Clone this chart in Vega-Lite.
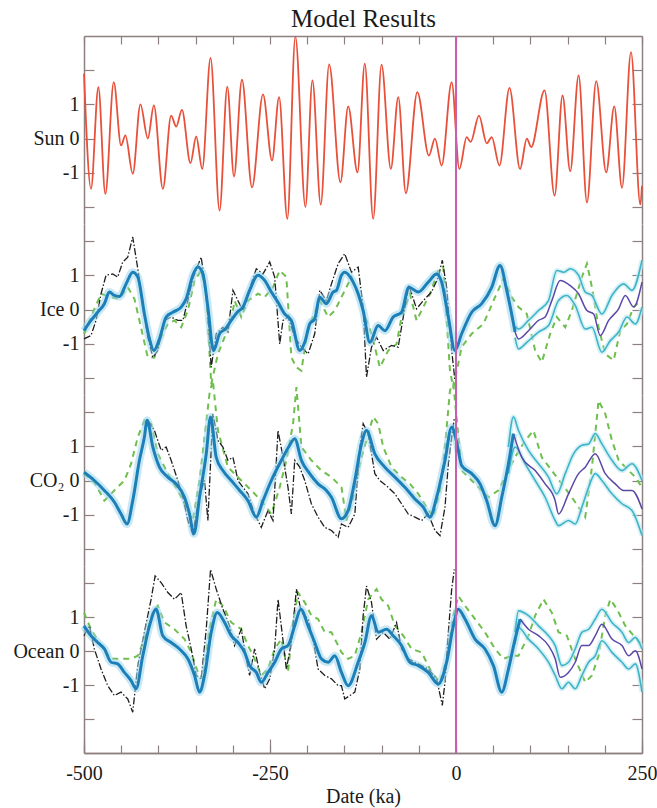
{
"$schema":"https://vega.github.io/schema/vega-lite/v6.json",
"padding":{"left":12,"top":6,"right":5,"bottom":5},
"bounds":"flush",
"spacing":0,
"config":{"view":{"stroke":null},"axis":{"domainColor":"#8e8080","tickColor":"#8e8080","domainWidth":1.5,"tickWidth":1.2,"grid":false,"labelFont":"Liberation Serif","titleFont":"Liberation Serif","labelColor":"#1a1a1a","titleColor":"#1a1a1a","labelFlush":false,"labelOverlap":false}},
"datasets":{
"sun":[{"t":-500,"v":1.9},{"t":-490.6,"v":-1.47},{"t":-480.7,"v":1.5},{"t":-471.3,"v":-1.62},{"t":-460,"v":1.65},{"t":-450.2,"v":-0.2},{"t":-444.4,"v":0.09},{"t":-434.4,"v":-1.03},{"t":-424.2,"v":1.0},{"t":-414.2,"v":0},{"t":-406.1,"v":0.97},{"t":-394,"v":-1.47},{"t":-382.9,"v":0.67},{"t":-376.1,"v":0.35},{"t":-368.4,"v":0.84},{"t":-356.9,"v":-0.72},{"t":-349.2,"v":0.06},{"t":-341.1,"v":-0.89},{"t":-329.9,"v":2.36},{"t":-317.8,"v":-2.11},{"t":-307.4,"v":1.52},{"t":-298.4,"v":-1.11},{"t":-287.7,"v":1.72},{"t":-274.2,"v":-1.43},{"t":-259.4,"v":1.29},{"t":-247.3,"v":-0.64},{"t":-237.8,"v":1.21},{"t":-226.7,"v":-2.35},{"t":-215.9,"v":2.98},{"t":-202.4,"v":-2.0},{"t":-193,"v":1.7},{"t":-181.8,"v":-1.93},{"t":-170.5,"v":2.17},{"t":-155.3,"v":-1.28},{"t":-144.9,"v":0.94},{"t":-132.4,"v":-0.99},{"t":-122.6,"v":2.19},{"t":-111.3,"v":-2.35},{"t":-100.1,"v":2.16},{"t":-87.6,"v":-0.89},{"t":-77.6,"v":1.21},{"t":-67.4,"v":-1.6},{"t":-52,"v":1.36},{"t":-36.4,"v":-0.5},{"t":-28.3,"v":0},{"t":-19.3,"v":-0.79},{"t":-5.8,"v":1.65},{"t":4.5,"v":-0.89},{"t":14.4,"v":0.04},{"t":19.7,"v":-0.1},{"t":30.9,"v":0.67},{"t":41.3,"v":-0.14},{"t":48,"v":0.04},{"t":58.4,"v":-0.79},{"t":71.9,"v":1.48},{"t":86.1,"v":-0.89},{"t":95.2,"v":0},{"t":101,"v":-0.25},{"t":119,"v":1.41},{"t":132.5,"v":-1.67},{"t":143.2,"v":1.26},{"t":153.5,"v":-0.96},{"t":164.8,"v":1.85},{"t":176,"v":-1.87},{"t":188.5,"v":1.68},{"t":201.9,"v":-0.99},{"t":212.7,"v":0.94},{"t":223.1,"v":-1.44},{"t":235.2,"v":2.53},{"t":247.7,"v":-1.93},{"t":250,"v":-1.38}],
"ice_model":[{"t":-500,"v":-0.62},{"t":-490.6,"v":-0.32},{"t":-481.6,"v":-0.08},{"t":-472.6,"v":0.17},{"t":-465.9,"v":0.51},{"t":-459.2,"v":0.41},{"t":-452.4,"v":0.38},{"t":-443.4,"v":0.75},{"t":-434.5,"v":1.09},{"t":-427.7,"v":0.95},{"t":-418.8,"v":-0.13},{"t":-412,"v":-0.86},{"t":-406.2,"v":-1.2},{"t":-398.6,"v":-0.86},{"t":-389.6,"v":-0.22},{"t":-380.6,"v":-0.08},{"t":-369.4,"v":0.07},{"t":-362.7,"v":0.31},{"t":-353.7,"v":1.0},{"t":-346.9,"v":1.24},{"t":-340.2,"v":1.04},{"t":-333.5,"v":0.07},{"t":-325.9,"v":-1.2},{"t":-317.8,"v":-0.71},{"t":-310.1,"v":-0.57},{"t":-302.1,"v":-0.32},{"t":-294,"v":-0.08},{"t":-286.4,"v":0.07},{"t":-277.4,"v":0.56},{"t":-266.2,"v":1.0},{"t":-257.2,"v":0.85},{"t":-248.2,"v":0.51},{"t":-239.2,"v":0.21},{"t":-230.3,"v":-0.13},{"t":-221.3,"v":-0.32},{"t":-210,"v":-1.2},{"t":-203.3,"v":-0.96},{"t":-196.6,"v":-0.42},{"t":-189.9,"v":-0.27},{"t":-183.1,"v":0.36},{"t":-174.2,"v":0.17},{"t":-165.2,"v":0.51},{"t":-160.7,"v":0.56},{"t":-154,"v":1.0},{"t":-149.5,"v":1.09},{"t":-138.2,"v":0.8},{"t":-131.5,"v":0.46},{"t":-124.8,"v":-0.03},{"t":-115.8,"v":-0.96},{"t":-104.6,"v":-0.47},{"t":-95.6,"v":-0.62},{"t":-84.4,"v":-0.22},{"t":-73.2,"v":-0.08},{"t":-63.3,"v":0.65},{"t":-50.7,"v":0.51},{"t":-37.3,"v":0.8},{"t":-26,"v":1.04},{"t":-19.3,"v":0.8},{"t":-10.3,"v":-0.22},{"t":-1.4,"v":-1.2},{"t":7.6,"v":-0.71},{"t":21.1,"v":-0.08},{"t":34.6,"v":0.17},{"t":48,"v":0.65},{"t":59.2,"v":1.29},{"t":68.2,"v":0.56},{"t":79.4,"v":-0.66}],
"ice_mean":[{"t":79.4,"v":-0.66},{"t":84,"v":-0.86},{"t":97.4,"v":-0.62},{"t":110.9,"v":-0.32},{"t":119.8,"v":-0.22},{"t":128.8,"v":0.26},{"t":140,"v":0.85},{"t":153.5,"v":0.7},{"t":164.7,"v":0.46},{"t":176,"v":-0.03},{"t":185,"v":-0.13},{"t":193.9,"v":-0.76},{"t":205.2,"v":-0.32},{"t":218.6,"v":0.02},{"t":227.6,"v":0.41},{"t":238.8,"v":0.07},{"t":250,"v":0.8}],
"ice_upper":[{"t":79.4,"v":-0.5},{"t":84,"v":-0.57},{"t":97.4,"v":-0.32},{"t":110.9,"v":-0.03},{"t":124.3,"v":0.26},{"t":135.5,"v":1.14},{"t":144.5,"v":1.09},{"t":153.5,"v":1.19},{"t":164.7,"v":1.0},{"t":173.7,"v":0.51},{"t":182.7,"v":0.41},{"t":196.1,"v":-0.13},{"t":209.6,"v":0.41},{"t":225.3,"v":0.75},{"t":236.5,"v":0.56},{"t":250,"v":1.44}],
"ice_lower":[{"t":79.4,"v":-0.82},{"t":84,"v":-1.15},{"t":95.2,"v":-0.96},{"t":110.9,"v":-0.66},{"t":124.3,"v":-0.47},{"t":137.8,"v":0.26},{"t":149,"v":0.41},{"t":160.2,"v":0.12},{"t":173.7,"v":-0.57},{"t":182.7,"v":-0.52},{"t":196.1,"v":-1.25},{"t":207.4,"v":-0.91},{"t":218.6,"v":-0.66},{"t":229.8,"v":-0.22},{"t":241,"v":-0.42},{"t":250,"v":0.07}],
"ice_data":[{"t":-500,"v":-0.86},{"t":-490.6,"v":-0.76},{"t":-483.8,"v":-0.32},{"t":-477.1,"v":0.46},{"t":-470.4,"v":1.0},{"t":-461.4,"v":1.04},{"t":-454.7,"v":0.95},{"t":-447.9,"v":1.39},{"t":-441.2,"v":1.53},{"t":-434.5,"v":2.12},{"t":-427.7,"v":1.19},{"t":-421,"v":0.17},{"t":-414.3,"v":-0.81},{"t":-407.5,"v":-1.4},{"t":-400.8,"v":-1.2},{"t":-391.8,"v":-0.32},{"t":-382.9,"v":-0.22},{"t":-373.9,"v":-0.32},{"t":-367.1,"v":-0.32},{"t":-360.4,"v":0.26},{"t":-353.7,"v":0.9},{"t":-346.9,"v":1.29},{"t":-342.5,"v":1.53},{"t":-335.7,"v":0.51},{"t":-331.3,"v":-0.91},{"t":-329,"v":-1.69},{"t":-322.3,"v":-0.71},{"t":-313.3,"v":-0.52},{"t":-306.6,"v":-0.66},{"t":-299.8,"v":0.56},{"t":-293.1,"v":0.26},{"t":-286.4,"v":-0.03},{"t":-277.4,"v":0.61},{"t":-268.4,"v":1.19},{"t":-259.4,"v":1.04},{"t":-250.4,"v":1.39},{"t":-243.7,"v":0.95},{"t":-237,"v":-1.01},{"t":-232.5,"v":-0.32},{"t":-225.8,"v":-0.22},{"t":-216.8,"v":-0.81},{"t":-207.8,"v":-1.1},{"t":-198.8,"v":-1.3},{"t":-189.9,"v":-0.71},{"t":-183.1,"v":0.56},{"t":-174.2,"v":0.26},{"t":-167.4,"v":0.75},{"t":-158.4,"v":1.34},{"t":-149.5,"v":1.63},{"t":-140.5,"v":1.09},{"t":-131.5,"v":1.24},{"t":-124.8,"v":0.07},{"t":-120.3,"v":-1.98},{"t":-113.6,"v":-1.1},{"t":-106.8,"v":-0.81},{"t":-97.8,"v":-1.2},{"t":-86.6,"v":-1.05},{"t":-77.7,"v":-1.1},{"t":-70.9,"v":-0.22},{"t":-63.3,"v":0.7},{"t":-53,"v":0.02},{"t":-44,"v":0.26},{"t":-32.8,"v":0.51},{"t":-23.8,"v":0.95},{"t":-18.4,"v":1.44},{"t":-12.6,"v":0.65},{"t":-5.8,"v":-1.2},{"t":-1.4,"v":-2.08}],
"ice_alt":[{"t":-500,"v":-0.71},{"t":-490.6,"v":-0.22},{"t":-477.1,"v":0.46},{"t":-463.6,"v":0.36},{"t":-452.4,"v":0.31},{"t":-441.2,"v":0.65},{"t":-432.2,"v":0.31},{"t":-425.5,"v":-0.32},{"t":-414.3,"v":-1.4},{"t":-405.3,"v":-1.4},{"t":-396.3,"v":-0.81},{"t":-387.3,"v":-0.42},{"t":-378.4,"v":-0.32},{"t":-369.4,"v":-0.52},{"t":-360.4,"v":-0.03},{"t":-351.4,"v":0.85},{"t":-342.5,"v":1.14},{"t":-335.7,"v":0.46},{"t":-329,"v":-2.18},{"t":-320,"v":-1.3},{"t":-311,"v":-0.81},{"t":-302.1,"v":-0.32},{"t":-297.6,"v":0.26},{"t":-288.6,"v":-0.22},{"t":-279.6,"v":0.26},{"t":-266.2,"v":0.46},{"t":-257.2,"v":0.36},{"t":-246,"v":0.65},{"t":-237,"v":1.14},{"t":-228,"v":0.95},{"t":-221.3,"v":-1.4},{"t":-214.5,"v":-1.69},{"t":-207.8,"v":-1.79},{"t":-201.1,"v":-0.81},{"t":-194.4,"v":-0.32},{"t":-183.1,"v":0.26},{"t":-171.9,"v":-0.22},{"t":-162.9,"v":-0.03},{"t":-154,"v":0.36},{"t":-140.5,"v":0.95},{"t":-129.3,"v":0.36},{"t":-120.3,"v":-0.32},{"t":-113.6,"v":-0.71},{"t":-102.3,"v":-1.69},{"t":-91.1,"v":-1.2},{"t":-79.9,"v":-1.01},{"t":-73.2,"v":-0.22},{"t":-61.9,"v":0.46},{"t":-53,"v":-0.32},{"t":-46.2,"v":-0.03},{"t":-35,"v":0.46},{"t":-23.8,"v":1.14},{"t":-17.1,"v":1.24},{"t":-8.1,"v":-1.79},{"t":-3.6,"v":-2.28},{"t":7.6,"v":-1.1},{"t":21.1,"v":-0.71},{"t":36.8,"v":-0.42},{"t":52.5,"v":0.36},{"t":63.7,"v":0.9},{"t":75,"v":0.36},{"t":84,"v":0.07},{"t":95.2,"v":-0.13},{"t":106.4,"v":-1.2},{"t":115.3,"v":-1.54},{"t":126.6,"v":-0.71},{"t":135.5,"v":-0.22},{"t":146.8,"v":-0.52},{"t":155.7,"v":-0.03},{"t":169.2,"v":0.95},{"t":176,"v":1.34},{"t":182.7,"v":0.65},{"t":191.6,"v":-0.52},{"t":200.6,"v":-1.3},{"t":211.9,"v":-1.49},{"t":220.8,"v":-0.62},{"t":229.8,"v":-0.42},{"t":238.8,"v":0.07},{"t":247.7,"v":0.26}],
"co2_model":[{"t":-500,"v":0.24},{"t":-486.1,"v":0},{"t":-472.6,"v":-0.29},{"t":-459.2,"v":-0.63},{"t":-450.2,"v":-0.98},{"t":-442.1,"v":-1.27},{"t":-434.5,"v":-0.59},{"t":-425.5,"v":0.59},{"t":-418.8,"v":1.27},{"t":-415.2,"v":1.76},{"t":-407.5,"v":0.98},{"t":-398.6,"v":0.39},{"t":-387.3,"v":0.1},{"t":-376.1,"v":-0.1},{"t":-364.9,"v":-0.49},{"t":-358.2,"v":-0.98},{"t":-352.3,"v":-1.56},{"t":-344.7,"v":-0.49},{"t":-335.7,"v":0.78},{"t":-329.9,"v":1.86},{"t":-322.3,"v":0.68},{"t":-313.3,"v":0.29},{"t":-302.1,"v":0},{"t":-290.8,"v":-0.29},{"t":-279.6,"v":-0.59},{"t":-268.4,"v":-1.07},{"t":-259.4,"v":-0.59},{"t":-248.2,"v":0},{"t":-234.7,"v":0.59},{"t":-224.9,"v":0.98},{"t":-216.8,"v":1.22},{"t":-207.8,"v":0.59},{"t":-196.6,"v":0.2},{"t":-185.4,"v":-0.1},{"t":-174.2,"v":-0.29},{"t":-167.4,"v":-0.49},{"t":-154,"v":-1.12},{"t":-145,"v":-0.88},{"t":-136,"v":0},{"t":-127,"v":1.07},{"t":-120.3,"v":1.46},{"t":-109.1,"v":0.78},{"t":-95.6,"v":0.39},{"t":-82.1,"v":0.1},{"t":-68.7,"v":-0.2},{"t":-55.2,"v":-0.54},{"t":-44,"v":-0.78},{"t":-35,"v":-1.07},{"t":-26,"v":-0.49},{"t":-14.8,"v":0.59},{"t":-5.8,"v":1.56},{"t":0.9,"v":1.12},{"t":7.6,"v":0.44},{"t":21.1,"v":0.2},{"t":32.3,"v":-0.1},{"t":41.3,"v":-0.59},{"t":52.5,"v":-1.32},{"t":61.5,"v":-0.49},{"t":70.5,"v":0.49},{"t":77.2,"v":1.37}],
"co2_mean":[{"t":77.2,"v":1.37},{"t":88.4,"v":0.68},{"t":106.4,"v":0.29},{"t":119.8,"v":-0.1},{"t":133.3,"v":-0.59},{"t":137.8,"v":-0.98},{"t":151.2,"v":-0.39},{"t":164.7,"v":0.2},{"t":173.7,"v":0.39},{"t":187.2,"v":0.78},{"t":200.6,"v":0.2},{"t":214.1,"v":-0.1},{"t":225.3,"v":-0.29},{"t":236.5,"v":-0.29},{"t":250,"v":-0.83}],
"co2_upper":[{"t":70.5,"v":0.98},{"t":77.2,"v":1.86},{"t":84,"v":1.46},{"t":97.4,"v":0.88},{"t":110.9,"v":0.49},{"t":124.3,"v":0.1},{"t":135.5,"v":-0.39},{"t":146.8,"v":0.2},{"t":158,"v":0.78},{"t":169.2,"v":1.03},{"t":178.2,"v":1.07},{"t":187.2,"v":1.37},{"t":196.1,"v":1.07},{"t":209.6,"v":0.59},{"t":223.1,"v":0.29},{"t":236.5,"v":0.49},{"t":250,"v":0}],
"co2_lower":[{"t":70.5,"v":0.2},{"t":79.4,"v":0.98},{"t":92.9,"v":0.49},{"t":106.4,"v":0},{"t":119.8,"v":-0.49},{"t":133.3,"v":-1.17},{"t":137.8,"v":-1.32},{"t":151.2,"v":-1.17},{"t":160.2,"v":-1.27},{"t":169.2,"v":-0.78},{"t":178.2,"v":-0.2},{"t":187.2,"v":0.2},{"t":196.1,"v":0},{"t":209.6,"v":-0.39},{"t":223.1,"v":-0.68},{"t":236.5,"v":-0.88},{"t":250,"v":-1.61}],
"co2_data":[{"t":-414.3,"v":1.76},{"t":-405.3,"v":1.46},{"t":-396.3,"v":0.88},{"t":-389.6,"v":0.98},{"t":-382.9,"v":0.59},{"t":-373.9,"v":0},{"t":-367.1,"v":-0.49},{"t":-360.4,"v":-1.17},{"t":-353.7,"v":-1.56},{"t":-346.9,"v":-0.68},{"t":-342.5,"v":-0.29},{"t":-338,"v":0},{"t":-333.5,"v":-1.17},{"t":-326.8,"v":1.95},{"t":-320,"v":1.17},{"t":-313.3,"v":0.98},{"t":-306.6,"v":0.59},{"t":-299.8,"v":0.68},{"t":-293.1,"v":0},{"t":-286.4,"v":-0.2},{"t":-279.6,"v":-0.39},{"t":-270.7,"v":-0.98},{"t":-261.7,"v":-1.37},{"t":-252.7,"v":-0.88},{"t":-246,"v":-1.17},{"t":-239.2,"v":1.46},{"t":-232.5,"v":0.68},{"t":-225.8,"v":-0.2},{"t":-221.3,"v":-0.98},{"t":-216.8,"v":0.59},{"t":-210,"v":0.39},{"t":-203.3,"v":0},{"t":-194.4,"v":-0.68},{"t":-185.4,"v":-1.07},{"t":-176.4,"v":-1.37},{"t":-167.4,"v":-1.46},{"t":-158.4,"v":-1.66},{"t":-154,"v":-1.27},{"t":-145,"v":-1.37},{"t":-136,"v":-0.98},{"t":-129.3,"v":0.98},{"t":-124.8,"v":1.66},{"t":-118,"v":1.37},{"t":-109.1,"v":0.2},{"t":-102.3,"v":0},{"t":-91.1,"v":-0.2},{"t":-82.1,"v":-0.39},{"t":-73.2,"v":-0.68},{"t":-64.2,"v":-0.98},{"t":-55.2,"v":-1.07},{"t":-46.2,"v":-1.17},{"t":-37.3,"v":-0.98},{"t":-28.3,"v":-1.46},{"t":-21.5,"v":-1.61},{"t":-14.8,"v":-0.78},{"t":-10.3,"v":0.49},{"t":-5.8,"v":1.27},{"t":-2.3,"v":1.81}],
"co2_alt":[{"t":-500,"v":0.2},{"t":-486.1,"v":-0.05},{"t":-472.6,"v":-0.59},{"t":-459.2,"v":-0.29},{"t":-445.7,"v":0},{"t":-436.7,"v":0.49},{"t":-427.7,"v":1.27},{"t":-418.8,"v":1.76},{"t":-409.8,"v":1.66},{"t":-400.8,"v":0.78},{"t":-387.3,"v":0.2},{"t":-373.9,"v":-0.29},{"t":-362.7,"v":-0.78},{"t":-353.7,"v":-1.17},{"t":-344.7,"v":0},{"t":-338,"v":1.27},{"t":-331.3,"v":2.54},{"t":-326.8,"v":2.93},{"t":-320,"v":1.46},{"t":-306.6,"v":0.39},{"t":-288.6,"v":0},{"t":-275.1,"v":-0.29},{"t":-261.7,"v":-0.59},{"t":-248.2,"v":-0.98},{"t":-237,"v":-0.2},{"t":-228,"v":0.59},{"t":-219,"v":1.66},{"t":-214.5,"v":2.73},{"t":-207.8,"v":0.98},{"t":-194.4,"v":0.59},{"t":-180.9,"v":0.29},{"t":-167.4,"v":0.1},{"t":-153.9,"v":-0.2},{"t":-147.2,"v":-1.17},{"t":-138.2,"v":-0.49},{"t":-129.3,"v":0.49},{"t":-118,"v":1.37},{"t":-111.3,"v":1.86},{"t":-104.6,"v":1.66},{"t":-97.8,"v":0.98},{"t":-86.6,"v":0.39},{"t":-73.2,"v":0.1},{"t":-61.9,"v":-0.1},{"t":-50.7,"v":-0.39},{"t":-39.5,"v":-0.78},{"t":-30.6,"v":-1.07},{"t":-21.5,"v":-0.29},{"t":-14.8,"v":0.98},{"t":-8.1,"v":2.64},{"t":-3.6,"v":2.83},{"t":7.6,"v":0.29},{"t":21.1,"v":0},{"t":34.6,"v":-0.29},{"t":43.5,"v":-0.49},{"t":57,"v":-0.29},{"t":66,"v":0.1},{"t":79.4,"v":0.68},{"t":92.9,"v":1.17},{"t":104.1,"v":1.46},{"t":115.3,"v":0.68},{"t":128.8,"v":0.29},{"t":142.3,"v":-0.1},{"t":155.7,"v":-0.49},{"t":164.7,"v":-0.78},{"t":173.7,"v":-1.07},{"t":182.7,"v":0.39},{"t":191.6,"v":2.34},{"t":200.6,"v":1.95},{"t":209.6,"v":1.17},{"t":218.6,"v":0.59},{"t":227.6,"v":0.39},{"t":241,"v":0.1},{"t":250,"v":-0.2}],
"oce_model":[{"t":-500,"v":0.74},{"t":-490.6,"v":0.45},{"t":-481.6,"v":0.25},{"t":-472.6,"v":0.06},{"t":-463.6,"v":-0.33},{"t":-454.7,"v":-0.38},{"t":-445.7,"v":-0.63},{"t":-436.7,"v":-0.87},{"t":-430,"v":-1.11},{"t":-421,"v":-0.14},{"t":-412,"v":0.74},{"t":-403.1,"v":1.23},{"t":-394.1,"v":0.45},{"t":-382.9,"v":0.25},{"t":-371.6,"v":0.06},{"t":-360.4,"v":-0.23},{"t":-351.4,"v":-0.72},{"t":-344.7,"v":-1.21},{"t":-338,"v":-0.72},{"t":-329,"v":0.55},{"t":-320.9,"v":1.13},{"t":-311,"v":0.84},{"t":-302.1,"v":0.45},{"t":-293.1,"v":0.25},{"t":-284.1,"v":-0.04},{"t":-277.4,"v":-0.43},{"t":-268.4,"v":-0.63},{"t":-261.7,"v":-0.92},{"t":-252.7,"v":-0.63},{"t":-243.7,"v":-0.33},{"t":-234.7,"v":0.06},{"t":-225.8,"v":0.16},{"t":-216.8,"v":0.74},{"t":-208.7,"v":1.23},{"t":-198.8,"v":0.74},{"t":-189.9,"v":0.25},{"t":-180.9,"v":-0.23},{"t":-171.9,"v":-0.33},{"t":-162.9,"v":-0.14},{"t":-153.9,"v":-0.63},{"t":-145,"v":-1.02},{"t":-131.5,"v":-0.33},{"t":-122.5,"v":0.25},{"t":-113.6,"v":1.04},{"t":-104.6,"v":0.55},{"t":-93.4,"v":0.64},{"t":-84.4,"v":0.45},{"t":-73.2,"v":0.16},{"t":-61.9,"v":-0.33},{"t":-50.7,"v":-0.43},{"t":-37.3,"v":-0.63},{"t":-23.8,"v":-0.97},{"t":-12.6,"v":-0.33},{"t":-3.6,"v":0.74},{"t":3.1,"v":1.23},{"t":12.1,"v":0.94},{"t":25.6,"v":0.35},{"t":39,"v":0.06},{"t":50.3,"v":-0.43},{"t":61.5,"v":-1.21},{"t":70.5,"v":-0.53},{"t":79.4,"v":0.35},{"t":86.2,"v":0.94}],
"oce_mean":[{"t":86.2,"v":0.94},{"t":97.4,"v":0.64},{"t":110.9,"v":0.45},{"t":124.3,"v":0.16},{"t":133.3,"v":-0.23},{"t":140,"v":-0.77},{"t":151.2,"v":-0.63},{"t":160.2,"v":-0.33},{"t":169.2,"v":0.16},{"t":178.2,"v":0.16},{"t":187.2,"v":0.45},{"t":196.1,"v":0.79},{"t":209.6,"v":0.35},{"t":223.1,"v":0.16},{"t":232.1,"v":-0.14},{"t":241,"v":0.01},{"t":250,"v":-0.53}],
"oce_upper":[{"t":79.4,"v":0.55},{"t":84,"v":1.18},{"t":97.4,"v":1.04},{"t":110.9,"v":0.74},{"t":124.3,"v":0.45},{"t":133.3,"v":0.16},{"t":142.3,"v":-0.43},{"t":151.2,"v":-0.33},{"t":160.2,"v":0.06},{"t":169.2,"v":0.55},{"t":178.2,"v":0.64},{"t":187.2,"v":0.94},{"t":196.1,"v":1.23},{"t":209.6,"v":0.84},{"t":223.1,"v":0.55},{"t":232.1,"v":0.25},{"t":241,"v":0.4},{"t":250,"v":0.06}],
"oce_lower":[{"t":79.4,"v":0.2},{"t":84,"v":0.69},{"t":97.4,"v":0.35},{"t":110.9,"v":0.06},{"t":124.3,"v":-0.33},{"t":133.3,"v":-0.72},{"t":142.3,"v":-1.11},{"t":151.2,"v":-0.92},{"t":160.2,"v":-1.11},{"t":169.2,"v":-0.72},{"t":178.2,"v":-0.33},{"t":187.2,"v":-0.14},{"t":196.1,"v":0.3},{"t":209.6,"v":-0.04},{"t":223.1,"v":-0.33},{"t":232.1,"v":-0.53},{"t":241,"v":-0.38},{"t":250,"v":-1.21}],
"oce_data":[{"t":-500,"v":0.45},{"t":-492.8,"v":0.74},{"t":-486.1,"v":0.06},{"t":-477.1,"v":-0.53},{"t":-468.1,"v":-1.02},{"t":-459.2,"v":-1.31},{"t":-450.2,"v":-1.21},{"t":-441.2,"v":-1.41},{"t":-434.5,"v":-1.8},{"t":-427.7,"v":-0.43},{"t":-418.8,"v":0.55},{"t":-409.8,"v":1.52},{"t":-404.4,"v":2.21},{"t":-396.3,"v":2.01},{"t":-387.3,"v":1.72},{"t":-378.4,"v":1.52},{"t":-369.4,"v":1.72},{"t":-362.7,"v":0.74},{"t":-355.9,"v":0.06},{"t":-349.2,"v":-0.72},{"t":-342.5,"v":-0.82},{"t":-335.7,"v":0.64},{"t":-329.9,"v":2.4},{"t":-322.3,"v":1.82},{"t":-313.3,"v":1.23},{"t":-304.3,"v":0.74},{"t":-297.6,"v":0.16},{"t":-288.6,"v":0.64},{"t":-281.9,"v":-0.23},{"t":-277.4,"v":-0.72},{"t":-270.7,"v":0.06},{"t":-263.9,"v":-0.63},{"t":-257.2,"v":-1.11},{"t":-250.4,"v":-0.82},{"t":-243.7,"v":0.06},{"t":-239.2,"v":1.52},{"t":-233.8,"v":0.55},{"t":-228,"v":-0.53},{"t":-221.3,"v":0.25},{"t":-214.5,"v":1.82},{"t":-207.8,"v":1.13},{"t":-198.8,"v":0.94},{"t":-192.1,"v":0.35},{"t":-185.4,"v":-0.53},{"t":-176.4,"v":-0.72},{"t":-167.4,"v":-0.82},{"t":-158.4,"v":-1.02},{"t":-154,"v":-1.02},{"t":-149.5,"v":-1.41},{"t":-142.7,"v":-1.31},{"t":-136,"v":-1.21},{"t":-129.3,"v":-0.53},{"t":-124.8,"v":1.04},{"t":-120.3,"v":1.91},{"t":-113.6,"v":1.43},{"t":-106.8,"v":0.35},{"t":-97.8,"v":0.55},{"t":-88.9,"v":0.35},{"t":-79.9,"v":0.84},{"t":-73.2,"v":0.06},{"t":-64.2,"v":-0.23},{"t":-55.2,"v":-0.33},{"t":-46.2,"v":-0.43},{"t":-37.3,"v":-0.53},{"t":-26,"v":-0.82},{"t":-18.4,"v":-1.6},{"t":-14.8,"v":-0.92},{"t":-10.3,"v":0.55},{"t":-5.8,"v":1.82},{"t":-2.3,"v":2.4}],
"oce_alt":[{"t":-500,"v":1.13},{"t":-490.6,"v":0.64},{"t":-477.1,"v":0.16},{"t":-463.6,"v":-0.23},{"t":-450.2,"v":-0.23},{"t":-436.7,"v":-0.23},{"t":-427.7,"v":-0.14},{"t":-418.8,"v":0.35},{"t":-407.5,"v":1.13},{"t":-400.8,"v":1.33},{"t":-391.8,"v":0.84},{"t":-378.4,"v":0.64},{"t":-364.9,"v":0.35},{"t":-355.9,"v":-0.04},{"t":-346.9,"v":-0.63},{"t":-340.2,"v":-0.82},{"t":-331.3,"v":0.64},{"t":-322.3,"v":1.52},{"t":-313.3,"v":1.33},{"t":-302.1,"v":0.84},{"t":-288.6,"v":0.64},{"t":-279.6,"v":0.16},{"t":-270.7,"v":-0.23},{"t":-261.7,"v":-0.72},{"t":-252.7,"v":-0.53},{"t":-243.7,"v":0.06},{"t":-234.7,"v":0.35},{"t":-225.8,"v":-0.63},{"t":-219,"v":0.84},{"t":-212.3,"v":1.72},{"t":-203.3,"v":1.43},{"t":-194.4,"v":1.04},{"t":-185.4,"v":0.94},{"t":-176.4,"v":0.55},{"t":-167.4,"v":0.55},{"t":-153.9,"v":-0.04},{"t":-145,"v":-0.23},{"t":-136,"v":-0.14},{"t":-127,"v":0.55},{"t":-118,"v":1.52},{"t":-106.8,"v":1.82},{"t":-100.1,"v":1.52},{"t":-91.1,"v":1.33},{"t":-82.1,"v":0.74},{"t":-70.9,"v":0.45},{"t":-59.7,"v":0.06},{"t":-46.2,"v":-0.04},{"t":-32.8,"v":-0.63},{"t":-21.5,"v":-0.92},{"t":-12.6,"v":-0.23},{"t":-3.6,"v":1.04},{"t":3.1,"v":1.62},{"t":12.1,"v":1.33},{"t":25.6,"v":0.94},{"t":39,"v":0.55},{"t":52.5,"v":0.06},{"t":63.7,"v":-0.23},{"t":75,"v":-0.14},{"t":84,"v":-0.14},{"t":97.4,"v":0.45},{"t":106.4,"v":1.04},{"t":117.6,"v":1.52},{"t":128.8,"v":1.13},{"t":137.8,"v":0.55},{"t":149,"v":0.45},{"t":160.2,"v":-0.23},{"t":173.7,"v":-0.92},{"t":182.7,"v":-0.72},{"t":191.6,"v":-0.14},{"t":200.6,"v":1.04},{"t":207.4,"v":1.52},{"t":216.3,"v":1.23},{"t":227.6,"v":0.74},{"t":238.8,"v":0.45},{"t":250,"v":0.16}]
},
"vconcat":[
{"width":558,"height":188,
 "layer":[
  {"data":{"name":"sun"},"mark":{"type":"line","color":"#e8503a","strokeWidth":1.8,"interpolate":"monotone"},
   "encoding":{"x":{"field":"t","type":"quantitative","scale":{"domain":[-500,250],"nice":false,"zero":false},"axis":{"orient":"top","values":[-500,-450,-400,-350,-300,-250,-200,-150,-100,-50,0,50,100,150,200,250],"tickSize":-8,"labels":false,"title":"Model Results","titleFontSize":25,"titleFontWeight":"normal","titlePadding":4}},
    "y":{"field":"v","type":"quantitative","scale":{"domain":[-2.5,3],"nice":false,"zero":false},"axis":{"orient":"left","values":[-2,-1,0,1,2],"tickSize":-10,"labelPadding":15,"labelFontSize":20,"labelExpr":"datum.value==0?'Sun 0':datum.value==1?'1':datum.value==-1?'-1':''","title":null}}}},
  {"data":{"values":[{}]},"mark":{"type":"rule","color":"#c55fae","strokeWidth":2},
   "encoding":{"x":{"datum":0,"type":"quantitative","axis":null},"y":{"datum":-2.5,"type":"quantitative","axis":{"orient":"right","values":[-2,-1,0,1,2],"tickSize":-10,"labels":false,"title":null}},"y2":{"datum":3}}}
 ],
 "resolve":{"axis":{"x":"independent","y":"independent"}}},
{"width":558,"height":171,
 "layer":[
  {"data":{"name":"ice_alt"},"mark":{"type":"line","color":"#6fbf4e","strokeWidth":2,"strokeDash":[6,5]},
   "encoding":{"x":{"field":"t","type":"quantitative","scale":{"domain":[-500,250],"nice":false,"zero":false},"axis":null},
    "y":{"field":"v","type":"quantitative","scale":{"domain":[-2.5,2.5],"nice":false,"zero":false},"axis":{"orient":"left","values":[-2,-1,0,1,2],"tickSize":-10,"labelPadding":15,"labelFontSize":20,"labelExpr":"datum.value==0?'Ice 0':datum.value==1?'1':datum.value==-1?'-1':''","title":null}}}},
  {"data":{"name":"ice_data"},"mark":{"type":"line","color":"#1e1e1e","strokeWidth":1.3,"strokeDash":[7,2,1.5,2]},"encoding":{"x":{"field":"t","type":"quantitative","axis":null},"y":{"field":"v","type":"quantitative","axis":null}}},
  {"data":{"name":"ice_model"},"mark":{"type":"line","color":"#9bd6ee","strokeWidth":8,"opacity":0.55,"interpolate":"monotone"},"encoding":{"x":{"field":"t","type":"quantitative","axis":null},"y":{"field":"v","type":"quantitative","axis":null}}},
  {"data":{"name":"ice_upper"},"mark":{"type":"line","color":"#bde7f1","strokeWidth":5,"opacity":0.6,"interpolate":"monotone"},"encoding":{"x":{"field":"t","type":"quantitative","axis":null},"y":{"field":"v","type":"quantitative","axis":null}}},
  {"data":{"name":"ice_lower"},"mark":{"type":"line","color":"#bde7f1","strokeWidth":5,"opacity":0.6,"interpolate":"monotone"},"encoding":{"x":{"field":"t","type":"quantitative","axis":null},"y":{"field":"v","type":"quantitative","axis":null}}},
  {"data":{"name":"ice_upper"},"mark":{"type":"line","color":"#3fb4c6","strokeWidth":1.6,"interpolate":"monotone"},"encoding":{"x":{"field":"t","type":"quantitative","axis":null},"y":{"field":"v","type":"quantitative","axis":null}}},
  {"data":{"name":"ice_lower"},"mark":{"type":"line","color":"#3fb4c6","strokeWidth":1.6,"interpolate":"monotone"},"encoding":{"x":{"field":"t","type":"quantitative","axis":null},"y":{"field":"v","type":"quantitative","axis":null}}},
  {"data":{"name":"ice_mean"},"mark":{"type":"line","color":"#5a48a8","strokeWidth":1.5,"interpolate":"monotone"},"encoding":{"x":{"field":"t","type":"quantitative","axis":null},"y":{"field":"v","type":"quantitative","axis":null}}},
  {"data":{"name":"ice_model"},"mark":{"type":"line","color":"#1d7fb8","strokeWidth":3,"interpolate":"monotone"},"encoding":{"x":{"field":"t","type":"quantitative","axis":null},"y":{"field":"v","type":"quantitative","axis":null}}},
  {"data":{"values":[{}]},"mark":{"type":"rule","color":"#c55fae","strokeWidth":2},
   "encoding":{"x":{"datum":0,"type":"quantitative","axis":null},"y":{"datum":-2.5,"type":"quantitative","axis":{"orient":"right","values":[-2,-1,0,1,2],"tickSize":-10,"labels":false,"title":null}},"y2":{"datum":2.5}}}
 ],
 "resolve":{"axis":{"x":"independent","y":"independent"}}},
{"width":558,"height":171,
 "layer":[
  {"data":{"name":"co2_alt"},"mark":{"type":"line","color":"#6fbf4e","strokeWidth":2,"strokeDash":[6,5]},
   "encoding":{"x":{"field":"t","type":"quantitative","scale":{"domain":[-500,250],"nice":false,"zero":false},"axis":null},
    "y":{"field":"v","type":"quantitative","scale":{"domain":[-2.5,2.5],"nice":false,"zero":false},"axis":{"orient":"left","values":[-2,-1,0,1,2],"tickSize":-10,"labelPadding":15,"labelFontSize":20,"labelExpr":"datum.value==0?'CO₂ 0':datum.value==1?'1':datum.value==-1?'-1':''","title":null}}}},
  {"data":{"name":"co2_data"},"mark":{"type":"line","color":"#1e1e1e","strokeWidth":1.3,"strokeDash":[7,2,1.5,2]},"encoding":{"x":{"field":"t","type":"quantitative","axis":null},"y":{"field":"v","type":"quantitative","axis":null}}},
  {"data":{"name":"co2_model"},"mark":{"type":"line","color":"#9bd6ee","strokeWidth":8,"opacity":0.55,"interpolate":"monotone"},"encoding":{"x":{"field":"t","type":"quantitative","axis":null},"y":{"field":"v","type":"quantitative","axis":null}}},
  {"data":{"name":"co2_upper"},"mark":{"type":"line","color":"#bde7f1","strokeWidth":5,"opacity":0.6,"interpolate":"monotone"},"encoding":{"x":{"field":"t","type":"quantitative","axis":null},"y":{"field":"v","type":"quantitative","axis":null}}},
  {"data":{"name":"co2_lower"},"mark":{"type":"line","color":"#bde7f1","strokeWidth":5,"opacity":0.6,"interpolate":"monotone"},"encoding":{"x":{"field":"t","type":"quantitative","axis":null},"y":{"field":"v","type":"quantitative","axis":null}}},
  {"data":{"name":"co2_upper"},"mark":{"type":"line","color":"#3fb4c6","strokeWidth":1.6,"interpolate":"monotone"},"encoding":{"x":{"field":"t","type":"quantitative","axis":null},"y":{"field":"v","type":"quantitative","axis":null}}},
  {"data":{"name":"co2_lower"},"mark":{"type":"line","color":"#3fb4c6","strokeWidth":1.6,"interpolate":"monotone"},"encoding":{"x":{"field":"t","type":"quantitative","axis":null},"y":{"field":"v","type":"quantitative","axis":null}}},
  {"data":{"name":"co2_mean"},"mark":{"type":"line","color":"#5a48a8","strokeWidth":1.5,"interpolate":"monotone"},"encoding":{"x":{"field":"t","type":"quantitative","axis":null},"y":{"field":"v","type":"quantitative","axis":null}}},
  {"data":{"name":"co2_model"},"mark":{"type":"line","color":"#1d7fb8","strokeWidth":3,"interpolate":"monotone"},"encoding":{"x":{"field":"t","type":"quantitative","axis":null},"y":{"field":"v","type":"quantitative","axis":null}}},
  {"data":{"values":[{}]},"mark":{"type":"rule","color":"#c55fae","strokeWidth":2},
   "encoding":{"x":{"datum":0,"type":"quantitative","axis":null},"y":{"datum":-2.5,"type":"quantitative","axis":{"orient":"right","values":[-2,-1,0,1,2],"tickSize":-10,"labels":false,"title":null}},"y2":{"datum":2.5}}}
 ],
 "resolve":{"axis":{"x":"independent","y":"independent"}}},
{"width":558,"height":187,
 "layer":[
  {"data":{"name":"oce_alt"},"mark":{"type":"line","color":"#6fbf4e","strokeWidth":2,"strokeDash":[6,5]},
   "encoding":{"x":{"field":"t","type":"quantitative","scale":{"domain":[-500,250],"nice":false,"zero":false},"axis":{"orient":"bottom","values":[-500,-450,-400,-350,-300,-250,-200,-150,-100,-50,0,50,100,150,200,250],"tickSize":-8,"labels":false,"title":null}},
    "y":{"field":"v","type":"quantitative","scale":{"domain":[-3,2.5],"nice":false,"zero":false},"axis":{"orient":"left","values":[-2,-1,0,1,2],"tickSize":-10,"labelPadding":15,"labelFontSize":20,"labelExpr":"datum.value==0?'Ocean 0':datum.value==1?'1':datum.value==-1?'-1':''","title":null}}}},
  {"data":{"name":"oce_data"},"mark":{"type":"line","color":"#1e1e1e","strokeWidth":1.3,"strokeDash":[7,2,1.5,2]},"encoding":{"x":{"field":"t","type":"quantitative","axis":null},"y":{"field":"v","type":"quantitative","axis":null}}},
  {"data":{"name":"oce_model"},"mark":{"type":"line","color":"#9bd6ee","strokeWidth":8,"opacity":0.55,"interpolate":"monotone"},"encoding":{"x":{"field":"t","type":"quantitative","axis":null},"y":{"field":"v","type":"quantitative","axis":null}}},
  {"data":{"name":"oce_upper"},"mark":{"type":"line","color":"#bde7f1","strokeWidth":5,"opacity":0.6,"interpolate":"monotone"},"encoding":{"x":{"field":"t","type":"quantitative","axis":null},"y":{"field":"v","type":"quantitative","axis":null}}},
  {"data":{"name":"oce_lower"},"mark":{"type":"line","color":"#bde7f1","strokeWidth":5,"opacity":0.6,"interpolate":"monotone"},"encoding":{"x":{"field":"t","type":"quantitative","axis":null},"y":{"field":"v","type":"quantitative","axis":null}}},
  {"data":{"name":"oce_upper"},"mark":{"type":"line","color":"#3fb4c6","strokeWidth":1.6,"interpolate":"monotone"},"encoding":{"x":{"field":"t","type":"quantitative","axis":null},"y":{"field":"v","type":"quantitative","axis":null}}},
  {"data":{"name":"oce_lower"},"mark":{"type":"line","color":"#3fb4c6","strokeWidth":1.6,"interpolate":"monotone"},"encoding":{"x":{"field":"t","type":"quantitative","axis":null},"y":{"field":"v","type":"quantitative","axis":null}}},
  {"data":{"name":"oce_mean"},"mark":{"type":"line","color":"#5a48a8","strokeWidth":1.5,"interpolate":"monotone"},"encoding":{"x":{"field":"t","type":"quantitative","axis":null},"y":{"field":"v","type":"quantitative","axis":null}}},
  {"data":{"name":"oce_model"},"mark":{"type":"line","color":"#1d7fb8","strokeWidth":3,"interpolate":"monotone"},"encoding":{"x":{"field":"t","type":"quantitative","axis":null},"y":{"field":"v","type":"quantitative","axis":null}}},
  {"data":{"values":[{}]},"mark":{"type":"rule","color":"#c55fae","strokeWidth":2},
   "encoding":{"x":{"datum":0,"type":"quantitative","axis":{"orient":"bottom","values":[-500,-250,0,250],"tickSize":-14,"labelPadding":24,"labelFontSize":20,"labelExpr":"datum.value<0?'-'+abs(datum.value):''+datum.value","title":"Date (ka)","titleFontSize":20,"titleFontWeight":"normal","titlePadding":3}},"y":{"datum":-3,"type":"quantitative","axis":{"orient":"right","values":[-2,-1,0,1,2],"tickSize":-10,"labels":false,"title":null}},"y2":{"datum":2.5}}}
 ],
 "resolve":{"axis":{"x":"independent","y":"independent"}}}
]
}
